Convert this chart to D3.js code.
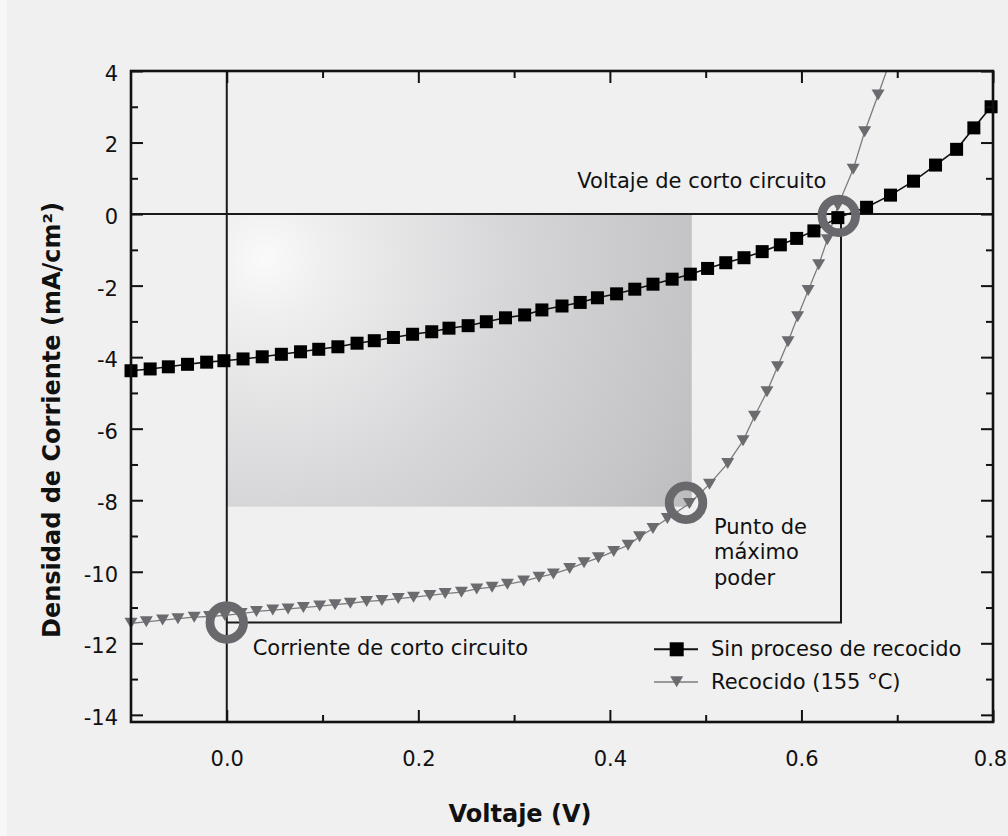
<!DOCTYPE html>
<html>
<head>
<meta charset="utf-8">
<script src="https://cdn.jsdelivr.net/npm/d3@7"></script>
<style>
  html, body { margin: 0; padding: 0; background: #f0f0f0; }
  svg { display: block; }
  text { font-family: "DejaVu Sans", Verdana, sans-serif; fill: #111; }
</style>
</head>
<body>
<script>
// ---------- data ----------
const voltajeSin = [-0.100,-0.080,-0.061,-0.041,-0.021,-0.003,0.017,0.037,0.057,0.077,
  0.096,0.116,0.136,0.154,0.174,0.194,0.214,0.232,0.252,0.271,
  0.291,0.311,0.329,0.350,0.369,0.387,0.407,0.426,0.445,0.465,
  0.484,0.502,0.521,0.540,0.559,0.578,0.595,0.613,0.638,0.668,
  0.693,0.717,0.740,0.762,0.780,0.798];
const corrienteSin = [-4.38,-4.33,-4.27,-4.20,-4.14,-4.10,-4.05,-3.99,-3.92,-3.85,
  -3.78,-3.71,-3.61,-3.54,-3.45,-3.36,-3.29,-3.19,-3.12,-3.01,
  -2.90,-2.82,-2.68,-2.57,-2.47,-2.34,-2.23,-2.10,-1.96,-1.82,
  -1.68,-1.52,-1.36,-1.22,-1.05,-0.86,-0.68,-0.47,-0.10,0.19,
  0.53,0.92,1.37,1.81,2.41,3.00];

const voltajeRec = [-0.100,-0.084,-0.067,-0.051,-0.034,-0.018,-0.002,0.015,0.031,0.048,
  0.064,0.080,0.097,0.113,0.129,0.146,0.162,0.179,0.195,0.212,
  0.228,0.245,0.261,0.277,0.293,0.310,0.326,0.341,0.358,0.373,
  0.388,0.404,0.419,0.431,0.445,0.460,0.483,0.504,0.523,0.539,
  0.551,0.564,0.575,0.586,0.596,0.607,0.618,0.627,0.638,0.654,
  0.666,0.680,0.694];
const corrienteRec = [-11.44,-11.40,-11.35,-11.31,-11.27,-11.25,-11.22,-11.17,-11.11,-11.07,
  -11.04,-11.00,-10.96,-10.92,-10.88,-10.83,-10.80,-10.75,-10.71,-10.66,
  -10.61,-10.57,-10.48,-10.43,-10.35,-10.26,-10.15,-10.06,-9.91,-9.75,
  -9.61,-9.43,-9.26,-9.02,-8.79,-8.51,-8.09,-7.55,-6.97,-6.34,
  -5.65,-4.97,-4.27,-3.57,-2.87,-2.14,-1.42,-0.72,0.23,1.25,
  2.30,3.33,4.39];

const seriesNames = ["Sin proceso de recocido", "Recocido (155 °C)"];
const xTicksMajor = [0.0, 0.2, 0.4, 0.6, 0.8];
const xTickLabels = ["0.0", "0.2", "0.4", "0.6", "0.8"];
const xTicksMinor = [0.1, 0.3, 0.5, 0.7];
const yTicksMajor = [-14, -12, -10, -8, -6, -4, -2, 0, 2, 4];
const yTickLabels = ["-14", "-12", "-10", "-8", "-6", "-4", "-2", "0", "2", "4"];
const yTicksMinor = [-13, -11, -9, -7, -5, -3, -1, 1, 3];

// annotated points (V, J)
const puntoIsc = [0.0, -11.42];
const puntoVoc = [0.639, -0.05];
const puntoMPP = [0.4795, -8.07];
const rectIV = [0.6413, -11.42];   // corner of Voc x Isc rectangle
const rectMPP = [0.4855, -8.18];   // corner of max-power rectangle

// ---------- layout ----------
const W = 1008, H = 836;
const svg = d3.select("body").append("svg").attr("width", W).attr("height", H);
const x = d3.scaleLinear().domain([-0.1, 0.8]).range([131, 993]);
const y = d3.scaleLinear().domain([-14.2, 4]).range([722, 71]);

svg.append("rect").attr("x", 0).attr("y", 0).attr("width", W).attr("height", H).attr("fill", "#f0f0f0");
svg.append("rect").attr("x", 0).attr("y", 0).attr("width", 7).attr("height", H).attr("fill", "#f7f7f7");

const defs = svg.append("defs");
defs.append("clipPath").attr("id", "clip").append("rect")
  .attr("x", x(-0.1)).attr("y", y(4)).attr("width", x(0.8) - x(-0.1)).attr("height", y(-14.2) - y(4));
const grad = defs.append("radialGradient").attr("id", "grad")
  .attr("gradientUnits", "userSpaceOnUse")
  .attr("cx", x(0.04)).attr("cy", y(-1.23)).attr("r", 495);
[[0, "#fafafa"], [0.12, "#efeff0"], [0.5, "#d6d6d8"], [0.87, "#c4c4c6"], [1, "#bcbcbe"]]
  .forEach(s => grad.append("stop").attr("offset", s[0]).attr("stop-color", s[1]));

// gradient rectangle (max power)
svg.append("rect")
  .attr("x", x(0)).attr("y", y(0))
  .attr("width", x(rectMPP[0]) - x(0)).attr("height", y(rectMPP[1]) - y(0))
  .attr("fill", "url(#grad)");

// reference lines
const refG = svg.append("g").attr("stroke", "#1a1a1a").attr("stroke-width", 2).attr("fill", "none");
refG.append("line").attr("x1", x(0)).attr("x2", x(0)).attr("y1", y(4)).attr("y2", y(-14.2));
refG.append("line").attr("x1", x(-0.1)).attr("x2", x(0.8)).attr("y1", y(0)).attr("y2", y(0));
refG.append("path")
  .attr("d", `M${x(0)},${y(rectIV[1])}H${x(rectIV[0])}V${y(0)}`);

// series
const dataSin = voltajeSin.map((v, i) => [v, corrienteSin[i]]);
const dataRec = voltajeRec.map((v, i) => [v, corrienteRec[i]]);
const inRange = d => d[0] >= -0.1 && d[0] <= 0.8 && d[1] >= -14.2 && d[1] <= 4;
const line = d3.line().x(d => x(d[0])).y(d => y(d[1]));
const plot = svg.append("g").attr("clip-path", "url(#clip)");

plot.append("path").datum(dataRec).attr("d", line)
  .attr("fill", "none").attr("stroke", "#7c7c7c").attr("stroke-width", 1.3);
plot.append("path").datum(dataSin).attr("d", line)
  .attr("fill", "none").attr("stroke", "#111").attr("stroke-width", 1.6);

const marks = svg.append("g");
const triPath = (cx, cy, w, h) => `M${cx - w / 2},${cy - h / 2}L${cx + w / 2},${cy - h / 2}L${cx},${cy + h / 2}Z`;
marks.selectAll("path.tri").data(dataRec.filter(inRange)).join("path").attr("class", "tri")
  .attr("d", d => triPath(x(d[0]), y(d[1]), 13, 11))
  .attr("fill", "#6b6b6f");
const sq = 13;
marks.selectAll("rect.sq").data(dataSin.filter(inRange)).join("rect").attr("class", "sq")
  .attr("x", d => x(d[0]) - sq / 2).attr("y", d => y(d[1]) - sq / 2)
  .attr("width", sq).attr("height", sq).attr("fill", "#000");

// frame
svg.append("rect").attr("x", x(-0.1)).attr("y", y(4))
  .attr("width", x(0.8) - x(-0.1)).attr("height", y(-14.2) - y(4))
  .attr("fill", "none").attr("stroke", "#111").attr("stroke-width", 2.6);

// axes (inward ticks on all four sides)
const major = 12, minor = 7;
function styleAxis(g) {
  g.select(".domain").remove();
  g.selectAll(".tick line").attr("stroke", "#111").attr("stroke-width", 2);
  g.selectAll("text").attr("font-family", "DejaVu Sans, Verdana, sans-serif").attr("font-size", 21).attr("fill", "#111");
}
const xl = svg.append("g").attr("transform", `translate(0,${y(-14.2)})`)
  .call(d3.axisBottom(x).tickValues(xTicksMajor).tickSize(-major).tickPadding(29)
    .tickFormat((d, i) => xTickLabels[i])).call(styleAxis);
xl.selectAll("text").filter(d => d === 0.8).attr("dx", "-3");
svg.append("g").attr("transform", `translate(0,${y(-14.2)})`)
  .call(d3.axisBottom(x).tickValues(xTicksMinor).tickSize(-minor).tickFormat("")).call(styleAxis);
svg.append("g").attr("transform", `translate(0,${y(4)})`)
  .call(d3.axisTop(x).tickValues(xTicksMajor).tickSize(-major).tickFormat("")).call(styleAxis);
svg.append("g").attr("transform", `translate(0,${y(4)})`)
  .call(d3.axisTop(x).tickValues(xTicksMinor).tickSize(-minor).tickFormat("")).call(styleAxis);

const yl = svg.append("g").attr("transform", `translate(${x(-0.1)},0)`)
  .call(d3.axisLeft(y).tickValues(yTicksMajor).tickSize(-major).tickPadding(13)
    .tickFormat((d, i) => yTickLabels[i])).call(styleAxis);
yl.selectAll("text").attr("dy", "0.45em");
svg.append("g").attr("transform", `translate(${x(-0.1)},0)`)
  .call(d3.axisLeft(y).tickValues(yTicksMinor).tickSize(-minor).tickFormat("")).call(styleAxis);
svg.append("g").attr("transform", `translate(${x(0.8)},0)`)
  .call(d3.axisRight(y).tickValues(yTicksMajor).tickSize(-major).tickFormat("")).call(styleAxis);
svg.append("g").attr("transform", `translate(${x(0.8)},0)`)
  .call(d3.axisRight(y).tickValues(yTicksMinor).tickSize(-minor).tickFormat("")).call(styleAxis);

// rings (drawn over markers)
[puntoIsc, puntoVoc, puntoMPP].forEach(p => {
  svg.append("circle").attr("cx", x(p[0])).attr("cy", y(p[1])).attr("r", 16.8)
    .attr("fill", "none").attr("stroke", "#69696d").attr("stroke-width", 8.8);
});

// axis titles
svg.append("text").attr("x", 520).attr("y", 821.5).attr("text-anchor", "middle")
  .attr("font-size", 24).attr("font-weight", "bold").text("Voltaje (V)");
svg.append("text").attr("transform", "translate(60,420) rotate(-90)").attr("text-anchor", "middle")
  .attr("font-size", 24).attr("font-weight", "bold").text("Densidad de Corriente (mA/cm²)");

// annotations
const ann = svg.append("g").attr("font-size", 21);
ann.append("text").attr("x", 577.3).attr("y", 188.3).text("Voltaje de corto circuito");
ann.append("text").attr("x", 252.7).attr("y", 655).text("Corriente de corto circuito");
ann.append("text").attr("x", 714).attr("y", 533.5).text("Punto de");
ann.append("text").attr("x", 714).attr("y", 559.3).text("máximo");
ann.append("text").attr("x", 714).attr("y", 585).text("poder");

// legend
const lg = svg.append("g");
lg.append("line").attr("x1", 654).attr("x2", 698).attr("y1", 649.3).attr("y2", 649.3)
  .attr("stroke", "#111").attr("stroke-width", 2);
lg.append("rect").attr("x", 676.7 - 7).attr("y", 649.3 - 7).attr("width", 14).attr("height", 14).attr("fill", "#000");
lg.append("text").attr("x", 711).attr("y", 656).attr("font-size", 21).text(seriesNames[0]);
lg.append("line").attr("x1", 654).attr("x2", 698).attr("y1", 682).attr("y2", 682)
  .attr("stroke", "#7c7c7c").attr("stroke-width", 1.3);
lg.append("path").attr("d", triPath(676.7, 681.7, 13, 11)).attr("fill", "#6b6b6f");
lg.append("text").attr("x", 711).attr("y", 688.7).attr("font-size", 21).text(seriesNames[1]);
</script>
</body>
</html>
